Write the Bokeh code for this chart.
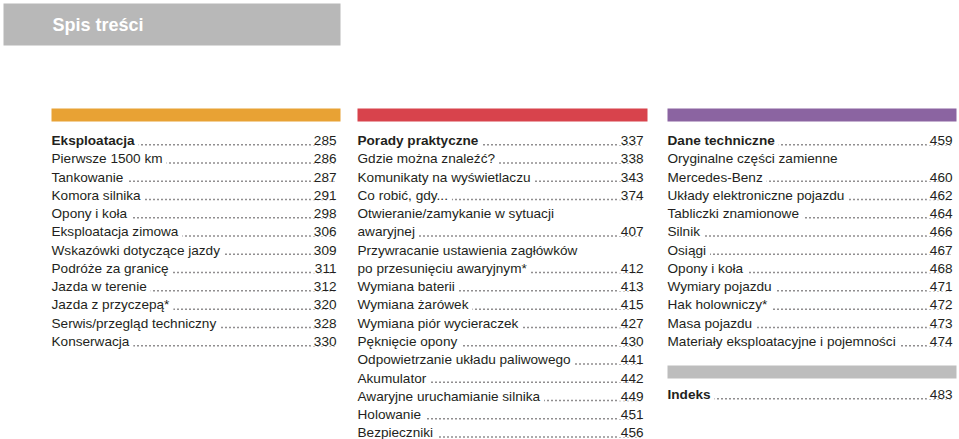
from bokeh.plotting import figure
from bokeh.models import Range1d, ColumnDataSource
from bokeh.core.properties import value
from bokeh.embed import file_html
from bokeh.resources import INLINE

# ---------------- data ----------------
page_title = "Spis treści"

sec1_titles = ["Eksploatacja", "Pierwsze 1500 km", "Tankowanie", "Komora silnika",
               "Opony i koła", "Eksploatacja zimowa", "Wskazówki dotyczące jazdy",
               "Podróże za granicę", "Jazda w terenie", "Jazda z przyczepą*",
               "Serwis/przegląd techniczny", "Konserwacja"]
sec1_pages = [285, 286, 287, 291, 298, 306, 309, 311, 312, 320, 328, 330]

sec2_titles = ["Porady praktyczne", "Gdzie można znaleźć?", "Komunikaty na wyświetlaczu",
               "Co robić, gdy...", "Otwieranie/zamykanie w sytuacji\nawaryjnej",
               "Przywracanie ustawienia zagłówków\npo przesunięciu awaryjnym*",
               "Wymiana baterii", "Wymiana żarówek", "Wymiana piór wycieraczek",
               "Pęknięcie opony", "Odpowietrzanie układu paliwowego", "Akumulator",
               "Awaryjne uruchamianie silnika", "Holowanie", "Bezpieczniki"]
sec2_pages = [337, 338, 343, 374, 407, 412, 413, 415, 427, 430, 441, 442, 449, 451, 456]

sec3_titles = ["Dane techniczne", "Oryginalne części zamienne\nMercedes-Benz",
               "Układy elektroniczne pojazdu", "Tabliczki znamionowe", "Silnik",
               "Osiągi", "Opony i koła", "Wymiary pojazdu", "Hak holowniczy*",
               "Masa pojazdu", "Materiały eksploatacyjne i pojemności"]
sec3_pages = [459, 460, 462, 464, 466, 467, 468, 471, 472, 473, 474]

sec4_titles = ["Indeks"]
sec4_pages = [483]

sec_colors = ["#e8a234", "#d8434c", "#8b64a1", "#bdbdbd"]

# ---------------- layout ----------------
W, H = 959, 439
FONT = "Liberation Sans"
TXT = "#231f20"
STEP = 18.27
FS = "13.6px"

p = figure(width=W, height=H, output_backend="svg", toolbar_location=None,
           x_range=Range1d(0, W), y_range=Range1d(H, 0),
           min_border=0, outline_line_color=None)
p.axis.visible = False
p.grid.visible = False
p.background_fill_color = "white"
p.border_fill_color = "white"

# header
p.quad(left=[3], right=[340], top=[3], bottom=[45], fill_color="#b8b8b8", line_color=None)
p.text(x=[52], y=[24], text=[page_title], text_font=value(FONT), text_font_size="18px",
       text_font_style="bold", text_color="white", text_baseline="middle")

sections = [
    (sec1_titles, sec1_pages, 51, 340, 108, 140),
    (sec2_titles, sec2_pages, 357, 647, 108, 140),
    (sec3_titles, sec3_pages, 667, 956, 108, 140),
    (sec4_titles, sec4_pages, 667, 956, 365, 394),
]

bar = dict(l=[], r=[], t=[], b=[], c=[])
tx = dict(x=[], y=[], text=[], style=[])
nx = dict(x=[], y=[], text=[])
dots = dict(x0=[], x1=[], y=[])

for (titles, pages, xl, xr, bar_top, first_y), col in zip(sections, sec_colors):
    bar["l"].append(xl); bar["r"].append(xr)
    bar["t"].append(bar_top); bar["b"].append(bar_top + 13); bar["c"].append(col)
    row = 0
    for i, (t, pg) in enumerate(zip(titles, pages)):
        lines = t.split("\n")
        for j, ln in enumerate(lines):
            y = first_y + row * STEP
            tx["x"].append(xl); tx["y"].append(y); tx["text"].append(ln)
            tx["style"].append("bold" if i == 0 else "normal")
            if j == len(lines) - 1:
                nx["x"].append(xr - 4); nx["y"].append(y); nx["text"].append(str(pg))
                dots["x0"].append(xl + 2); dots["x1"].append(xr - 6); dots["y"].append(y + 4.2)
            row += 1

p.quad(left="l", right="r", top="t", bottom="b", fill_color="c", line_color=None,
       source=ColumnDataSource(bar))

p.segment(x0="x0", x1="x1", y0="y", y1="y", line_color=TXT, line_width=1.5,
          line_dash="1 3", source=ColumnDataSource(dots))

p.text(x="x", y="y", text="text", text_font_style="style", text_font=value(FONT),
       text_font_size=FS, text_color=TXT, text_baseline="middle", text_align="left",
       background_fill_color="white", padding=dict(left=0, right=4, top=0, bottom=0),
       source=ColumnDataSource(tx))
p.text(x="x", y="y", text="text", text_font=value(FONT),
       text_font_size=FS, text_color=TXT, text_baseline="middle", text_align="right",
       background_fill_color="white", padding=dict(left=3, right=0, top=0, bottom=0),
       source=ColumnDataSource(nx))

open("out.html", "w").write(file_html(p, INLINE))
